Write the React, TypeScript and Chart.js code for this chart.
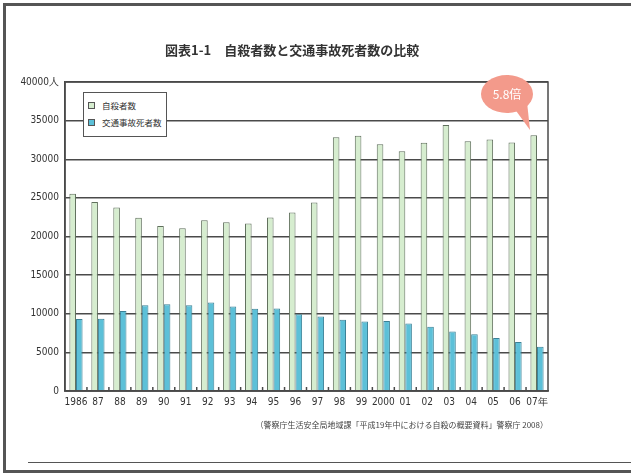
import React, { useEffect, useRef } from "react";
import { Chart, registerables } from "chart.js";
Chart.register(...registerables);

const years = ["1986","87","88","89","90","91","92","93","94","95","96","97","98","99","2000","01","02","03","04","05","06","07年"];
const suicides = [25524,24460,23742,22436,21346,21084,22104,21851,21679,22445,23104,24391,32863,33048,31957,31042,32143,34427,32325,32552,32155,33093];
const traffic = [9317,9347,10344,11086,11227,11109,11452,10942,10649,10679,9942,9640,9211,9006,9066,8747,8326,7702,7358,6871,6352,5744];
const seriesNames = ["自殺者数", "交通事故死者数"];
const yMax = 40000;
const yStep = 5000;
const yUnit = "人";
const titleText = "図表1-1　自殺者数と交通事故死者数の比較";
const sourceText = "（警察庁生活安全局地域課「平成19年中における自殺の概要資料」警察庁 2008）";
const calloutText = "5.8倍";

const GREEN = "#d6edcf";
const GREEN_BORDER = "#5f6f5c";
const BLUE = "#5cc0d8";
const BLUE_BORDER = "#3b8196";
const LINE = "#4a4a4a";
const NARROW = '"Liberation Sans Narrow", "DejaVu Sans Condensed", "Liberation Sans", sans-serif';
const CJK = '"Noto Sans CJK JP", "Noto Sans", sans-serif';

const framePlugin = {
  id: "frame",
  afterDraw(chart: any) {
    const { ctx, chartArea } = chart;
    const xs = chart.scales.x;
    ctx.save();
    ctx.strokeStyle = LINE;
    ctx.lineWidth = 1.5;
    ctx.strokeRect(chartArea.left, chartArea.top, chartArea.right - chartArea.left, chartArea.bottom - chartArea.top);
    const n = years.length;
    for (let i = 1; i < n; i++) {
      const x = (xs.getPixelForValue(i - 1) + xs.getPixelForValue(i)) / 2;
      ctx.beginPath();
      ctx.moveTo(x, chartArea.bottom);
      ctx.lineTo(x, chartArea.bottom - 4);
      ctx.stroke();
    }
    ctx.restore();
  },
};

export default function App() {
  const ref = useRef<HTMLCanvasElement>(null);
  useEffect(() => {
    const chart = new Chart(ref.current as HTMLCanvasElement, {
      type: "bar",
      data: {
        labels: years,
        datasets: [
          { label: seriesNames[0], data: suicides, backgroundColor: GREEN, borderColor: GREEN_BORDER, borderWidth: 1 },
          { label: seriesNames[1], data: traffic, backgroundColor: BLUE, borderColor: BLUE_BORDER, borderWidth: 1 },
        ],
      },
      options: {
        responsive: false,
        animation: false,
        devicePixelRatio: 1,
        datasets: { bar: { categoryPercentage: 0.6, barPercentage: 1 } },
        layout: { padding: { left: 0, top: 82, right: 83, bottom: 63 } },
        plugins: { legend: { display: false }, tooltip: { enabled: false }, title: { display: false } },
        scales: {
          x: {
            grid: { display: false, drawTicks: false },
            border: { display: true, color: LINE, width: 1.5 },
            ticks: { color: "#333", font: { family: NARROW, size: 10 }, padding: 5, maxRotation: 0, autoSkip: false },
            afterFit: (s: any) => { s.height = 20; },
          },
          y: {
            min: 0,
            max: yMax,
            grid: { color: LINE, lineWidth: 1.5, drawTicks: false },
            border: { display: true, color: LINE, width: 1.5 },
            ticks: {
              stepSize: yStep,
              color: "#333",
              font: { family: NARROW, size: 10 },
              padding: 6,
              callback: (v: any) => (v === yMax ? `${v}${yUnit}` : String(v)),
            },
            afterFit: (s: any) => { s.width = 65; },
          },
        },
      },
      plugins: [framePlugin],
    } as any);
    return () => chart.destroy();
  }, []);

  const legendItem = (name: string, color: string, top: number) => (
    <div style={{ position: "absolute", left: 88, top, display: "flex", alignItems: "center", height: 12 }}>
      <div style={{ width: 5, height: 5, background: color, border: "1px solid #555", marginRight: 7 }} />
      <span style={{ fontFamily: CJK, fontSize: 8.5, color: "#333", whiteSpace: "nowrap", lineHeight: "12px" }}>{name}</span>
    </div>
  );

  return (
    <div style={{ position: "absolute", left: 0, top: 0, width: 631, height: 474, overflow: "hidden", background: "#fff" }}>
      <div style={{ position: "absolute", left: 3, top: 3, width: 700, height: 464, border: "3px solid #555" }} />
      <div style={{ position: "absolute", left: 28, top: 462, width: 700, height: 0, borderTop: "1.5px solid #555" }} />
      <canvas ref={ref} width={631} height={474} style={{ position: "absolute", left: 0, top: 0 }} />
      <div style={{ position: "absolute", left: 165, top: 41, fontFamily: CJK, fontWeight: 700, fontSize: 13, color: "#333", whiteSpace: "nowrap", lineHeight: "18px" }}>{titleText}</div>
      <div style={{ position: "absolute", left: 83, top: 92, width: 82, height: 43, border: "1.5px solid #555", background: "#fff" }} />
      {legendItem(seriesNames[0], GREEN, 99)}
      {legendItem(seriesNames[1], BLUE, 116)}
      <div style={{ position: "absolute", right: 631 - 548, top: 419, fontFamily: CJK, fontSize: 8, color: "#444", whiteSpace: "nowrap", lineHeight: "12px" }}>{sourceText}</div>
      <svg width={631} height={474} style={{ position: "absolute", left: 0, top: 0 }}>
        <path d="M 514 108 L 530 130 L 527 102 Z" fill="#f39a8b" />
        <ellipse cx={507} cy={94} rx={26} ry={19} fill="#f39a8b" />
        <text x={507} y={99} textAnchor="middle" fill="#fff" fontFamily={CJK} fontSize={12}>{calloutText}</text>
      </svg>
    </div>
  );
}
